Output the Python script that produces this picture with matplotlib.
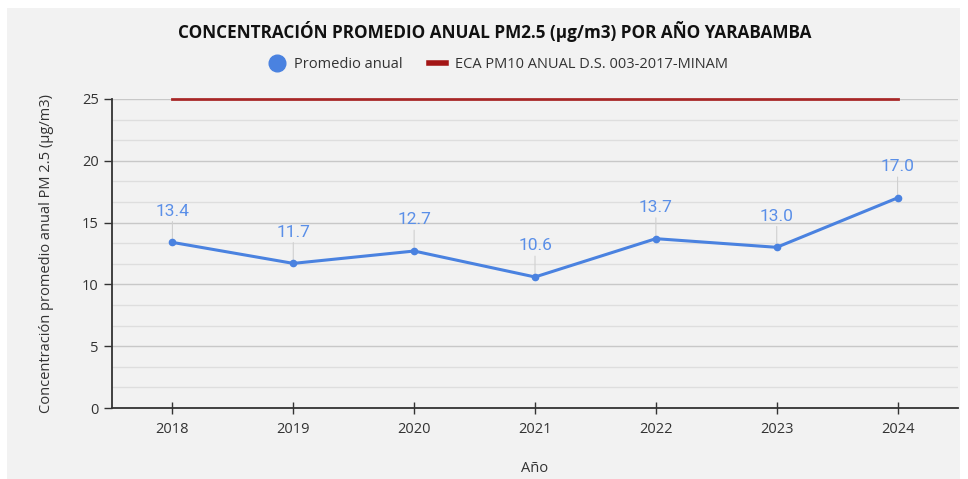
import matplotlib
matplotlib.use("Agg")
import matplotlib.pyplot as plt
from matplotlib.lines import Line2D
from matplotlib.patches import Rectangle
from matplotlib.ticker import MultipleLocator

years = ["2018", "2019", "2020", "2021", "2022", "2023", "2024"]
promedio = [13.4, 11.7, 12.7, 10.6, 13.7, 13.0, 17.0]
eca = [25, 25, 25, 25, 25, 25, 25]

BLUE = "#4a82e0"
LABEL_BLUE = "#5a8fe8"
RED = "#a31515"
BG = "#f2f2f2"

plt.rcParams["font.family"] = ["Open Sans", "DejaVu Sans"]

fig = plt.figure(figsize=(9.68, 4.79), dpi=100, facecolor="white")
fig.patches.append(Rectangle((7 / 968, 0), 953 / 968, 471 / 479,
                             transform=fig.transFigure, facecolor=BG,
                             edgecolor="none", zorder=-10))

ax = fig.add_axes([112 / 968, 1 - 408 / 479, 846 / 968, 309 / 479])
ax.set_facecolor(BG)
x = list(range(len(years)))

ax.plot(x, eca, color=RED, lw=2.0, alpha=0.9, clip_on=False, zorder=3)
ax.plot(x, promedio, color=BLUE, lw=2.2, marker="o", ms=4.5, zorder=4)

for xi, v in zip(x, promedio):
    ax.annotate("", xy=(xi, v), xytext=(0, 15), textcoords="offset points",
                arrowprops=dict(arrowstyle="-", color="#d0d0d0", lw=0.8,
                                shrinkA=0, shrinkB=0), zorder=2)
    ax.annotate(f"{v:.1f}", xy=(xi, v), xytext=(0, 22.5), textcoords="offset points",
                ha="center", va="center", color=LABEL_BLUE, fontsize=12.5,
                family=["Roboto", "DejaVu Sans"])

ax.set_xlim(-0.5, 6.5)
ax.set_ylim(0, 25)
ax.set_xticks(x)
ax.set_xticklabels(years)
ax.yaxis.set_major_locator(MultipleLocator(5))
ax.yaxis.set_minor_locator(MultipleLocator(5 / 3))
ax.grid(axis="y", which="major", color="#c8c8c8", lw=1.0)
ax.grid(axis="y", which="minor", color="#dedede", lw=1.0)
ax.set_axisbelow(True)

for s in ("top", "right"):
    ax.spines[s].set_visible(False)
for s in ("left", "bottom"):
    ax.spines[s].set_color("#333333")
    ax.spines[s].set_linewidth(1.3)
ax.tick_params(axis="x", direction="inout", length=8, width=1, colors="#333333",
               labelsize=10.5, pad=6)
ax.tick_params(axis="y", direction="out", length=6, width=1, colors="#333333",
               labelsize=10.5)
ax.tick_params(axis="y", which="minor", length=0)

ax.set_ylabel("Concentración promedio anual PM 2.5 (µg/m3)", fontsize=10.5,
              color="#333333", labelpad=20)
ax.set_xlabel("Año", fontsize=10.5, color="#333333", labelpad=17)

fig.text(495 / 968, 1 - 31 / 479, "CONCENTRACIÓN PROMEDIO ANUAL PM2.5 (µg/m3) POR AÑO YARABAMBA",
         ha="center", va="center", fontsize=12.3, fontweight="bold", color="#111111")

handles = [
    Line2D([], [], marker="o", color="none", markerfacecolor=BLUE,
           markeredgecolor=BLUE, markersize=12),
    Line2D([], [], color=RED, lw=4),
]
fig.legend(handles, ["Promedio anual", "ECA PM10 ANUAL D.S. 003-2017-MINAM"],
           loc="center", bbox_to_anchor=(498 / 968, 1 - 65 / 479), ncol=2,
           frameon=False, fontsize=10.5, handlelength=1.2, columnspacing=1.8,
           handletextpad=0.6, labelcolor="#333333")

fig.savefig("out.png", dpi=100, facecolor="white")
